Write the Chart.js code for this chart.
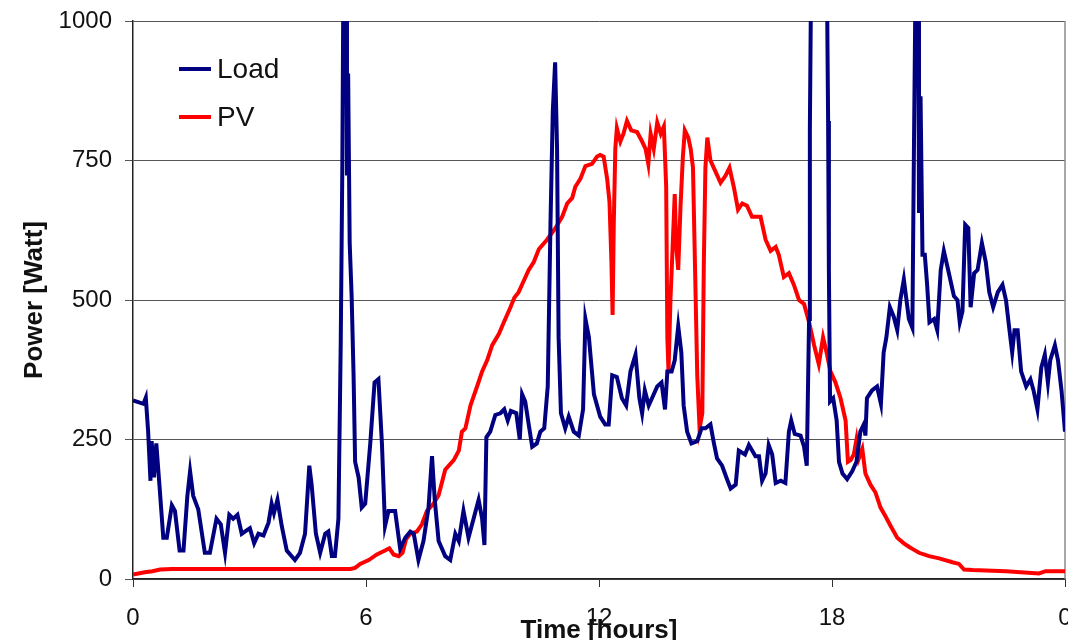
<!DOCTYPE html>
<html>
<head>
<meta charset="utf-8">
<title>Load and PV power</title>
<script src="https://cdn.jsdelivr.net/npm/chart.js@4.4.1/dist/chart.umd.min.js"></script>
<style>
    html, body { margin: 0; padding: 0; background: #fff; }
    #wrap { width: 1068px; height: 640px; }
</style>
</head>
<body>
<div id="wrap"><canvas id="powerChart" width="1068" height="640"></canvas></div>
<script>
const xTickValues = [0, 6, 12, 18, 24];
const xTickLabels = ['0', '6', '12', '18', '0'];
const yTickStep = 250;

const loadHours = [
    0, 0.27, 0.33, 0.39, 0.45, 0.48, 0.54, 0.6, 0.68, 0.78, 0.87, 1.0, 1.08, 1.2, 1.3, 1.4, 1.47, 1.55, 1.68, 1.85,
    1.98, 2.15, 2.26, 2.37, 2.48, 2.58, 2.69, 2.8, 2.88, 3.01, 3.12, 3.23, 3.36, 3.49, 3.57, 3.63, 3.72, 3.83, 3.96, 4.17,
    4.3, 4.43, 4.54, 4.6, 4.71, 4.82, 4.95, 5.03, 5.12, 5.2, 5.29, 5.35, 5.39, 5.42, 5.49, 5.51, 5.54, 5.58, 5.63, 5.68,
    5.72, 5.81, 5.89, 5.98, 6.11, 6.22, 6.32, 6.41, 6.49, 6.58, 6.66, 6.75, 6.88, 7.01, 7.14, 7.23, 7.35, 7.48, 7.61, 7.7,
    7.77, 7.87, 8.04, 8.17, 8.3, 8.39, 8.51, 8.64, 8.77, 8.9, 8.99, 9.05, 9.1, 9.2, 9.33, 9.46, 9.56, 9.65, 9.73, 9.87,
    9.96, 10.02, 10.1, 10.19, 10.28, 10.4, 10.49, 10.59, 10.68, 10.75, 10.81, 10.87, 10.92, 10.96, 11.02, 11.13, 11.22, 11.35, 11.48, 11.59,
    11.65, 11.74, 11.87, 12.03, 12.16, 12.25, 12.34, 12.46, 12.59, 12.7, 12.81, 12.94, 13.04, 13.11, 13.18, 13.28, 13.39, 13.5, 13.61, 13.7,
    13.76, 13.87, 13.95, 14.04, 14.12, 14.18, 14.27, 14.38, 14.53, 14.64, 14.74, 14.87, 14.96, 15.04, 15.17, 15.28, 15.39, 15.52, 15.6, 15.76,
    15.86, 16.03, 16.12, 16.2, 16.29, 16.37, 16.46, 16.55, 16.68, 16.8, 16.89, 16.95, 17.04, 17.19, 17.28, 17.35, 17.41, 17.43, 17.47, 17.6,
    17.75, 17.86, 17.9, 17.92, 17.95, 18.03, 18.12, 18.18, 18.27, 18.39, 18.52, 18.63, 18.73, 18.82, 18.86, 18.9, 19.03, 19.16, 19.26, 19.33,
    19.4, 19.49, 19.59, 19.68, 19.76, 19.85, 19.98, 20.07, 20.11, 20.15, 20.22, 20.24, 20.28, 20.33, 20.39, 20.45, 20.51, 20.63, 20.71, 20.8,
    20.88, 21.01, 21.14, 21.23, 21.29, 21.36, 21.43, 21.51, 21.57, 21.66, 21.75, 21.86, 21.96, 22.05, 22.15, 22.27, 22.39, 22.48, 22.57, 22.64,
    22.7, 22.78, 22.87, 23.0, 23.11, 23.19, 23.29, 23.39, 23.48, 23.56, 23.62, 23.74, 23.82, 23.91, 24.0
];
const loadWatts = [
    320, 314, 325, 264, 176, 247, 182, 243, 169, 74, 74, 132, 122, 51, 51, 149, 193, 149, 125, 47,
    47, 108, 98, 47, 115, 108, 115, 81, 85, 91, 64, 81, 78, 101, 135, 118, 142, 95, 51, 34,
    47, 81, 203, 169, 81, 47, 81, 85, 41, 41, 108, 426, 737, 1100, 1100, 723, 906, 602, 507, 365,
    210, 182, 128, 135, 243, 352, 358, 243, 95, 122, 122, 122, 54, 74, 85, 81, 34, 68, 128, 220,
    142, 68, 41, 34, 81, 68, 122, 74, 108, 142, 108, 61, 254, 264, 294, 297, 304, 284, 301, 297,
    250, 331, 318, 277, 237, 243, 264, 270, 345, 635, 838, 926, 771, 433, 297, 270, 291, 264, 257, 304,
    466, 433, 331, 291, 277, 277, 365, 362, 324, 311, 372, 402, 324, 297, 338, 311, 328, 345, 352, 304,
    372, 372, 392, 453, 406, 311, 264, 243, 247, 270, 270, 277, 243, 216, 203, 182, 162, 169, 230, 223,
    240, 220, 220, 176, 189, 240, 223, 172, 176, 172, 264, 284, 260, 257, 237, 203, 466, 804, 1150, 1400,
    1400, 1150, 821, 551, 318, 324, 284, 210, 189, 179, 193, 210, 264, 277, 257, 324, 338, 345, 314, 406,
    433, 487, 470, 446, 500, 537, 466, 450, 771, 1060, 1060, 656, 865, 581, 581, 527, 460, 466, 446, 554,
    588, 548, 507, 500, 460, 480, 635, 629, 487, 548, 554, 602, 568, 514, 487, 514, 527, 500, 446, 406,
    446, 446, 372, 345, 358, 338, 304, 379, 402, 352, 392, 419, 392, 338, 264
];

const pvHours = [
    0, 0.3, 0.5, 0.7, 1.0, 5.6, 5.72, 5.85, 6.07, 6.28, 6.49, 6.6, 6.71, 6.84, 6.94, 7.03, 7.14, 7.31, 7.44, 7.57,
    7.74, 7.87, 8.04, 8.26, 8.39, 8.47, 8.56, 8.69, 8.86, 8.99, 9.12, 9.25, 9.42, 9.55, 9.72, 9.82, 9.93, 10.06, 10.19, 10.32,
    10.45, 10.66, 10.88, 11.05, 11.18, 11.31, 11.39, 11.52, 11.65, 11.82, 11.95, 12.03, 12.12, 12.21, 12.27, 12.32, 12.35, 12.38, 12.42, 12.46,
    12.55, 12.63, 12.72, 12.83, 12.98, 13.11, 13.2, 13.27, 13.33, 13.41, 13.5, 13.59, 13.67, 13.73, 13.76, 13.79, 13.84, 13.9, 13.95, 13.99,
    14.04, 14.1, 14.16, 14.21, 14.3, 14.36, 14.42, 14.49, 14.53, 14.59, 14.66, 14.7, 14.74, 14.79, 14.87, 15.0, 15.13, 15.26, 15.36, 15.47,
    15.58, 15.69, 15.81, 15.94, 16.03, 16.16, 16.29, 16.42, 16.55, 16.63, 16.76, 16.89, 17.02, 17.15, 17.28, 17.41, 17.54, 17.66, 17.77, 17.86,
    17.96, 18.09, 18.22, 18.35, 18.41, 18.48, 18.56, 18.63, 18.69, 18.78, 18.86, 18.99, 19.12, 19.25, 19.38, 19.51, 19.68, 19.85, 20.0, 20.07,
    20.24, 20.5, 20.76, 21.1, 21.27, 21.4, 21.62, 22.48, 23.33, 23.5, 24.0
];
const pvWatts = [
    8, 12, 14, 17, 18, 18, 20, 27, 34, 44, 51, 55, 44, 41, 47, 71, 81, 85, 98, 122,
    135, 150, 196, 213, 230, 264, 270, 311, 345, 372, 392, 419, 439, 460, 487, 504, 514, 534, 554, 568,
    591, 608, 629, 649, 673, 683, 703, 717, 740, 744, 757, 760, 757, 717, 676, 568, 473, 635, 771, 808,
    784, 798, 821, 804, 801, 784, 771, 744, 798, 771, 818, 798, 811, 703, 433, 372, 500, 602, 690, 595,
    554, 669, 757, 804, 791, 771, 737, 500, 365, 270, 297, 568, 737, 791, 750, 730, 710, 723, 737, 703,
    662, 673, 669, 649, 649, 649, 608, 588, 595, 581, 541, 548, 527, 500, 493, 460, 419, 385, 433, 406,
    372, 352, 324, 284, 210, 213, 223, 250, 216, 233, 189, 169, 155, 128, 112, 95, 74, 64, 57, 54,
    47, 41, 37, 30, 27, 17, 16, 14, 10, 14, 14
];

Chart.defaults.font.family = "'Liberation Sans', Arial, sans-serif";
Chart.defaults.color = '#111';

function toPoints(xs, ys) {
    return xs.map((x, i) => ({ x: x, y: ys[i] }));
}

// legend sits inside the plot, top left, one entry per row
const insideLegend = {
    id: 'insideLegend',
    afterDraw(chart) {
        const { ctx, chartArea } = chart;
        ctx.save();
        chart.data.datasets.forEach((ds, i) => {
            const y = chartArea.top + 48 + i * 48;
            ctx.strokeStyle = ds.borderColor;
            ctx.lineWidth = 4;
            ctx.beginPath();
            ctx.moveTo(chartArea.left + 46, y);
            ctx.lineTo(chartArea.left + 78, y);
            ctx.stroke();
            ctx.fillStyle = '#111';
            ctx.font = "28px 'Liberation Sans', Arial, sans-serif";
            ctx.textBaseline = 'middle';
            ctx.textAlign = 'left';
            ctx.fillText(ds.label, chartArea.left + 84, y + 1);
        });
        ctx.restore();
    }
};

const rightFrame = {
    id: 'rightFrame',
    beforeDatasetsDraw(chart) {
        const { ctx, chartArea } = chart;
        ctx.save();
        ctx.strokeStyle = '#8a8a8a';
        ctx.lineWidth = 1.5;
        ctx.beginPath();
        ctx.moveTo(chartArea.right, chartArea.top);
        ctx.lineTo(chartArea.right, chartArea.bottom);
        ctx.stroke();
        ctx.restore();
    }
};

const ctx = document.getElementById('powerChart').getContext('2d');
const chart = new Chart(ctx, {
    type: 'line',
    data: {
        datasets: [
            {
                label: 'Load',
                data: toPoints(loadHours, loadWatts),
                borderColor: '#000080',
                borderWidth: 4,
                pointRadius: 0,
                tension: 0
            },
            {
                label: 'PV',
                data: toPoints(pvHours, pvWatts),
                borderColor: '#ff0000',
                borderWidth: 4,
                pointRadius: 0,
                tension: 0
            }
        ]
    },
    options: {
        responsive: false,
        devicePixelRatio: 1,
        animation: false,
        layout: { padding: { top: 21, right: 3, left: 0, bottom: 0 } },
        plugins: {
            legend: { display: false },
            tooltip: { enabled: false }
        },
        scales: {
            x: {
                type: 'linear',
                min: 0,
                max: 24,
                afterBuildTicks: scale => {
                    scale.ticks = xTickValues.map(v => ({ value: v }));
                },
                ticks: {
                    autoSkip: false,
                    maxRotation: 0,
                    padding: 17,
                    font: { size: 24 },
                    callback: (value, index) => xTickLabels[index]
                },
                grid: {
                    drawOnChartArea: false,
                    drawTicks: true,
                    tickLength: 8,
                    color: '#333'
                },
                border: { color: '#222', width: 1.5 },
                title: {
                    display: true,
                    text: 'Time [hours]',
                    font: { size: 26, weight: 'bold' },
                    padding: { top: 0, bottom: -6 }
                },
                afterFit: scale => {
                    scale.height = 61;
                    scale.paddingRight = 0;
                    scale.paddingLeft = 0;
                }
            },
            y: {
                min: 0,
                max: 1000,
                ticks: {
                    stepSize: yTickStep,
                    padding: 13,
                    font: { size: 24 },
                    callback: value => String(value)
                },
                grid: {
                    color: '#555',
                    lineWidth: 1,
                    tickLength: 8
                },
                border: { color: '#222', width: 1.5 },
                title: {
                    display: true,
                    text: 'Power [Watt]',
                    font: { size: 26, weight: 'bold' },
                    padding: { top: 19, bottom: 0 }
                },
                afterFit: scale => {
                    scale.width = 133;
                    scale.paddingTop = 0;
                    scale.paddingBottom = 0;
                }
            }
        }
    },
    plugins: [rightFrame, insideLegend]
});
</script>
</body>
</html>
